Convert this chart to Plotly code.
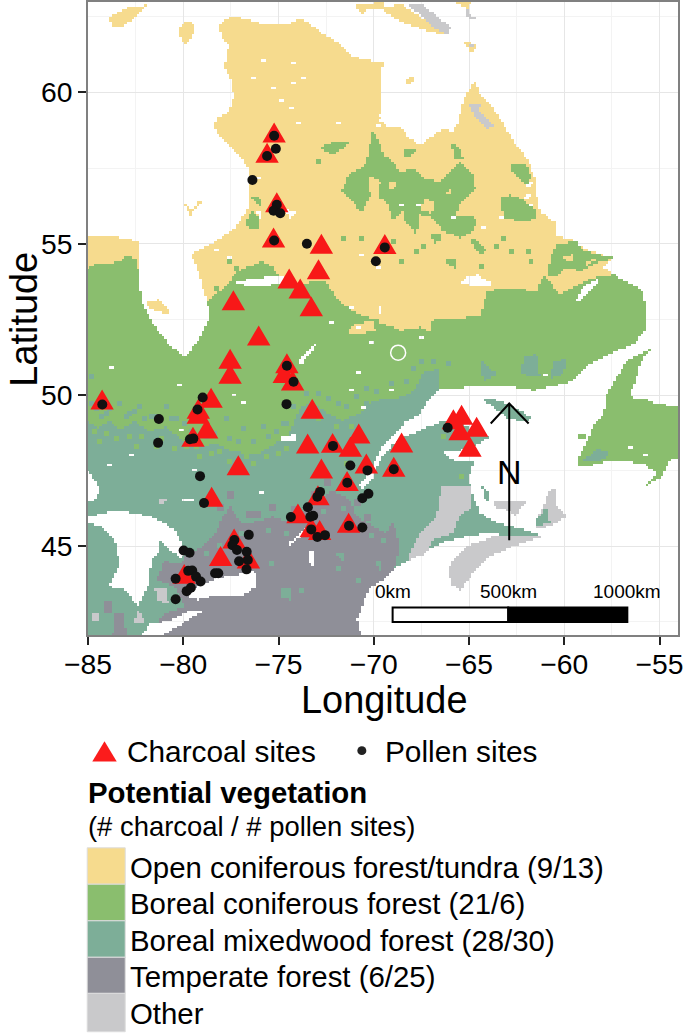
import numpy as np
import plotly.graph_objects as go

FONT = "Liberation Sans"
TAN, GREEN, MIXED, TEMPERATE, OTHER, WHITE = "#F6DB8E", "#8ABE6E", "#7DAE98", "#8F8F98", "#C9C9CB", "#FFFFFF"
RED, DOT = "#F81818", "#111111"

# ---- site locations (longitude, latitude) ----
charcoal_lon = [-75.23,-75.6,-75.09,-75.26,-72.75,-72.9,-74.44,-73.86,-73.28,-77.37,-69.42,
                -76.04,-77.54,-77.54,-84.26,-74.56,-74.7,-74.26,-78.54,-79.21,-79.21,-78.77,-79.49,
                -77.11,-78.51,-73.23,-73.47,-72.16,-70.79,-71.23,-70.39,-72.75,-71.4,-72.93,-73.98,
                -71.32,-73.28,-72.84,-77.33,-78.04,-76.58,-79.95,-68.54,-68.95,-65.82,-65.39,-65.47,-64.6,-64.95]
charcoal_lat = [58.68,58.01,56.37,55.21,55.0,54.16,53.85,53.52,52.93,53.13,54.99,
                51.97,51.2,50.7,49.85,51.05,50.73,50.48,49.91,49.55,49.38,48.89,48.62,
                47.68,46.64,49.55,48.4,48.42,48.73,48.29,47.74,47.57,47.16,46.69,46.09,
                45.78,45.63,45.54,45.26,44.68,44.6,44.09,48.43,47.63,49.2,49.35,48.84,48.95,48.29]
pollen_lon = [-75.23,-75.6,-75.14,-76.37,-75.09,-75.26,-74.91,-75.23,-73.51,-69.89,-69.42,
              -84.25,-81.28,-81.32,-78.98,-79.25,-79.65,-79.47,-79.12,-78.91,-74.56,-74.21,-74.58,
              -72.14,-71.23,-70.33,-71.39,-70.28,-70.6,-72.82,-72.96,-73.46,-73.18,-73.33,-74.35,
              -73.28,-72.96,-72.56,-71.3,-70.6,-76.56,-77.32,-77.42,-77.18,-76.67,-76.61,-77.07,
              -76.68,-78.16,-78.33,-79.98,-79.67,-79.74,-79.53,-79.33,-79.09,-80.4,-79.6,-79.82,-80.4,
              -68.95,-66.12]
pollen_lat = [58.57,57.9,58.14,57.11,56.29,56.09,56.01,55.11,55.0,54.42,54.88,
              49.69,49.21,48.42,49.92,49.52,48.54,48.56,47.32,46.43,50.97,50.44,49.7,
              48.32,47.67,47.51,47.1,46.74,46.59,46.8,46.64,46.29,46.01,45.98,45.97,
              45.56,45.31,45.37,45.68,45.62,45.38,45.21,45.04,44.88,44.82,44.55,44.51,
              44.24,44.11,44.11,44.86,44.79,44.19,44.2,44.0,43.84,43.93,43.63,43.52,43.25,
              47.55,48.92]

# ---- vegetation outlines (longitude, latitude), later lists paint over earlier ones ----
tundra_main = [(-78.16,62.22),(-77.46,62.55),(-76.75,62.44),(-75.7,62.22),(-74.65,62.22),(-73.77,62.44),(-72.9,62.05),
 (-71.84,61.62),(-71.14,61.18),(-69.74,61.01),(-69.6,60.74),(-69.6,59.9),(-69.68,59.25),(-69.33,58.87),(-68.63,58.87),
 (-68.1,58.48),(-67.58,58.26),(-66.88,58.6),(-66.35,58.8),(-65.9,58.7),(-65.56,59.03),(-65.3,59.8),(-64.95,60.13),
 (-64.68,60.4),(-64.42,59.91),(-63.72,59.47),(-63.02,58.76),(-62.67,58.37),(-61.96,57.82),(-61.53,57.16),(-61.44,56.62),
 (-61.26,56.07),(-60.47,55.68),(-60.39,55.24),(-59.6,55.13),(-58.98,54.85),(-57.4,54.52),(-57.93,54.2),(-57.23,53.92),
 (-55.82,53.43),(-55.74,52.55),(-57,52.3),(-78,52.3),(-78.6,52.55),(-78.77,53.1),(-79.12,53.87),(-79.56,54.64),
 (-78.16,55.13),(-77.28,55.52),(-76.58,56.18),(-76.49,56.84),(-76.58,57.49),(-76.93,57.82),(-78.16,58.59),(-78.42,58.87),
 (-78.16,59.2),(-77.63,59.36),(-77.37,59.8),(-77.46,60.35),(-77.89,60.9),(-77.72,61.12),(-77.63,61.56),(-77.98,61.78)]
tundra_ontario = [(-85,55.25),(-83.4,55.2),(-82.3,55.08),(-82.3,54.0),(-85,54.0)]
tundra_isl = [
 [(-83.95,62.49),(-82.89,62.82),(-81.93,62.88),(-82.37,62.55),(-83.07,62.22),(-83.68,62.16)],
 [(-80.26,62.16),(-79.74,62.38),(-79.39,62.22),(-79.56,61.78),(-79.91,61.58),(-80.21,61.89)],
 [(-82.02,53.03),(-81.32,53.15),(-80.7,52.82),(-80.79,52.66),(-81.84,52.88)],
 [(-79.3,56.45),(-79.04,56.34),(-79.39,56.12)],
 [(-79.91,56.3),(-79.47,56.12),(-79.65,55.9)],
 [(-69.68,62.77),(-68.63,62.93),(-67.4,62.44),(-66,62.11),(-66.09,61.89),(-67.05,62),(-68.63,62.33)],
 [(-70.96,62.88),(-69.39,63),(-69.65,62.71),(-70.26,62.77),(-70.61,62.55)],
 [(-68.37,60.35),(-68.02,60.57),(-67.84,60.41),(-68.19,60.24)],
 [(-65.65,62.96),(-64.9,62.96),(-65.1,62.75)],
 [(-65.3,61.67),(-64.68,61.62),(-64.68,61.4),(-64.95,61.34)],
 [(-69.68,61.01),(-69.42,60.96),(-69.6,60.74),(-69.68,60.74)],
]
boreal_main = [(-85,54.2),(-84.65,54.3),(-84.1,54.3),(-83.4,54.4),(-82.9,54.6),(-82.45,54.45),(-82.3,53.85),(-82.2,53.1),
 (-81.67,52.46),(-81.32,52.13),(-80.61,51.58),(-79.91,51.25),(-79.21,51.8),(-78.6,52.55),(-78.77,53.1),(-78.33,53.32),
 (-77.63,53.65),(-77.28,54.03),(-75.88,54.42),(-75.26,54.2),(-74.91,53.87),(-74.65,53.65),(-72.54,53.76),(-71.84,53.1),
 (-70.6,52.6),(-69.4,52.44),(-67.58,52.44),(-64.42,52.6),(-64.07,53.43),(-63.02,53.54),(-61.44,53.43),(-61.09,53.98),
 (-60.21,53.32),(-59.16,53.65),(-58.46,53.87),(-57.4,53.98),(-55.82,53.43),(-55.74,52.55),(-55.65,52.46),(-55.74,52.13),
 (-56.35,51.69),(-57.58,51.36),(-58.81,50.98),(-59.68,50.43),(-61.61,50.15),(-62.67,50.26),(-64.95,50.26),(-66.53,50.21),
 (-67.14,49.82),(-67.58,49.38),(-68.28,49.16),(-69.68,48.18),(-70.35,47.35),(-71.5,46.8),(-85,47)]
boreal_blobs = [
 [(-69.68,58.04),(-68.98,57.71),(-68.63,57.38),(-67.93,57.49),(-67.4,57.16),(-66.53,57.05),(-65.47,57.71),(-64.77,57.27),
  (-64.68,56.84),(-65.56,56.29),(-65.65,55.9),(-64.6,55.85),(-64.77,55.41),(-65.47,55.19),(-66.35,55.41),(-66.96,55.85),
  (-67.58,55.96),(-67.75,55.3),(-68.37,55.74),(-68.37,56.18),(-68.98,55.74),(-69.33,56.4),(-69.68,56.51)],
 [(-70.09,58.76),(-69.65,58.26),(-69.4,57.8),(-69.4,56.5),(-70.09,56.73),(-70.61,56.0),(-71.14,56.4),(-71.67,56.73),
  (-71.32,57.27),(-70.44,57.6),(-70.26,58.04)],
 [(-63.37,56.51),(-62.84,56.62),(-62.32,56.51),(-61.44,56.07),(-61.53,55.79),(-62.32,55.74),(-63.19,55.85)],
 [(-60.74,54.53),(-60.39,54.97),(-59.33,55.08),(-58.98,54.75),(-57.4,54.53),(-58.46,54.31),(-59.16,54.09),(-59.86,54.2),
  (-60.56,53.87),(-60.82,53.98)],
 [(-62.75,57.6),(-61.96,57.6),(-61.79,57.27),(-61.88,56.84),(-62.32,57.16),(-62.75,57.38)],
 [(-66.96,55.3),(-66.44,55.3),(-66.44,55.08),(-66.88,55.02)],
 [(-66,58.37),(-65.47,58.15),(-65.3,57.82),(-65.74,57.82)],
 [(-68.37,58.1),(-67.75,58.15),(-67.93,57.93),(-68.37,57.91)],
 [(-66.18,54.53),(-65.65,54.53),(-65.74,54.2),(-66.18,54.31)],
 [(-64.77,55.19),(-64.07,54.75),(-64.42,54.64),(-64.95,55.08)],
 [(-72.81,58.21),(-71.84,58.43),(-71.23,58.32),(-72.02,57.99),(-72.28,57.93)],
 [(-76.67,55.74),(-76.4,56.12),(-75.96,55.85),(-76.05,55.52),(-76.58,55.52)],
 [(-76.4,56.56),(-75.88,56.51),(-75.96,56.23),(-76.23,56.4)],
 [(-59.2,48.7),(-58.85,48.72),(-58.85,48.55),(-59.2,48.55)],
 [(-53.95,47.4),(-53.8,47.4),(-53.8,47.0),(-53.95,47.0)],
]
newfoundland = [(-59.33,47.85),(-58.63,48.67),(-58.46,49.05),(-57.93,49.38),(-57.75,50.04),(-56.7,51.14),(-55.39,51.53),
 (-56,51.09),(-56.18,50.59),(-56.61,49.93),(-55.65,49.88),(-55.47,49.77),(-54.07,49.6),(-53.5,49.5),(-53.5,48.07),(-54.42,47.85),
 (-54.86,47.3),(-55.82,46.97),(-55.12,47.41),(-55.82,47.74),(-57.4,47.85),(-59.16,47.6)]
tundra_over_boreal = [
 [(-69.68,52.46),(-66.96,52.46),(-67.05,52.08),(-67.58,52.24),(-68.63,52.13),(-69.16,52.3),(-69.68,52.35)],
 [(-71.4,52.02),(-71.14,52.3),(-70.09,52.46),(-69.91,52.13),(-70.79,52.0)],
 [(-67.4,56.51),(-66.79,56.34),(-66.96,55.96),(-67.49,56.12)],
 [(-70.26,57.27),(-69.65,57.05),(-69.74,56.62),(-70.26,56.73)],
 [(-66.3,56.7),(-65.9,56.85),(-65.95,56.6)],
 [(-69.2,57.1),(-68.85,57.05),(-68.9,56.8),(-69.2,56.8)],
 [(-60.2,54.5),(-59.5,54.65),(-59.6,54.4)],
 [(-58.95,54.4),(-58.3,54.5),(-58.8,54.25)],
]
mixed_main = [(-85,49.16),(-84.47,48.89),(-83.95,49.16),(-83.25,48.84),(-82.54,49.16),(-81.84,48.78),(-80.96,48.95),(-80.26,48.62),
 (-79.39,48.23),(-78.33,48.4),(-77.28,48.12),(-76.05,48.07),(-75.18,48.4),(-74.47,48.67),(-73.95,49.49),(-73.25,49.82),
 (-72.54,49.44),(-71.67,49.16),(-70.79,49.38),(-70.09,49.82),(-68.81,49.88),(-67.93,50.1),(-67.4,50.76),(-66.53,50.87),
 (-66.53,50.21),(-67.14,49.82),(-67.58,49.38),(-68.28,49.16),(-69.68,48.18),(-69.91,47.85),(-70.35,47.35),(-70.79,47.02),
 (-70.61,46.91),(-70.09,47.21),(-69.68,47.85),(-68.98,48.4),(-68.19,48.67),(-66.53,49.11),(-65.74,49.16),(-64.42,48.73),
 (-63.98,48.62),(-64.6,48.34),(-65.47,48.18),(-66.44,48.09),(-65.65,47.79),(-65.04,47.79),(-64.68,47.85),(-65.04,47.3),
 (-64.77,46.64),(-64.42,46.09),(-63.54,45.76),(-62.32,45.59),(-61.09,45.32),(-62.32,45.21),(-63.72,45.43),(-64.77,45.37),
 (-66.53,45.1),(-67.4,44.77),(-68.81,44.33),(-69.33,43.95),(-69.56,43.89),(-70.26,43.56),(-70.88,42.57),(-70.61,42.02),(-85,42.02)]
mixed_blobs = [
 [(-64.42,49.91),(-63.72,49.88),(-62.93,49.71),(-61.79,49.27),(-61.96,49.11),(-63.02,49.25),(-63.63,49.55)],
 [(-62.14,51.25),(-61.44,51.36),(-61.26,50.59),(-62.32,50.7)],
 [(-60.56,51.09),(-59.86,51.2),(-60.04,50.7),(-60.74,50.54)],
 [(-64.42,51.14),(-63.54,50.7),(-64.25,50.43)],
 [(-58.98,47.85),(-58.28,48.23),(-57.49,48.07),(-58.11,47.85)],
]
temperate_main = [(-81.32,44.0),(-81.05,44.49),(-80.09,44.44),(-79.82,44.82),(-79.04,44.93),(-78.25,45.43),(-77.98,45.98),
 (-77.54,46.31),(-76.93,45.76),(-76.05,45.81),(-75.35,45.98),(-74.47,45.81),(-73.77,46.14),(-72.89,46.47),(-72.28,46.86),
 (-71.32,46.58),(-70.88,45.98),(-70,45.65),(-69.42,45.43),(-68.98,45.76),(-68.63,44.99),(-68.89,44.33),(-69.33,43.95),
 (-69.56,43.89),(-70.26,43.56),(-70.88,42.57),(-70.61,42.02),(-81.84,42.02),(-80.96,42.79),(-79.91,43.01),(-80.44,43.67),(-81.4,43.89)]
temperate_bits = [
 [(-83.6,42.8),(-83.1,42.75),(-83,42.02),(-83.7,42.05)],
 [(-84.1,43.2),(-83.8,43.2),(-83.8,42.75),(-84.15,42.75)],
]
mixed_over_temperate = [
 [(-74.82,43.62),(-74.3,43.56),(-74.39,43.23),(-74.82,43.29)],
 [(-72.02,44.77),(-71.49,44.77),(-71.67,44.49)],
 [(-69.91,44.55),(-69.56,44.49),(-69.65,44.11)],
]
other_blobs = [
 [(-81.49,43.62),(-80.88,43.62),(-80.79,43.12),(-81.4,43.18)],
 [(-83.25,44),(-82.46,44),(-82.37,43.78),(-83.07,43.67)],
 [(-84.74,42.79),(-84.47,42.79),(-84.47,42.57),(-84.74,42.57)],
 [(-82.46,42.9),(-81.93,42.52),(-82.54,42.41)],
 [(-81.23,46.58),(-80.88,46.53),(-81.23,46.38)],
 [(-66.44,46.97),(-64.95,47.02),(-64.86,46.31),(-65.56,45.98),(-65.82,45.43),(-66.88,45.21),(-67.23,44.77),(-68.28,44.49),(-67.58,45.43),(-66.7,45.98)],
 [(-66.09,44.33),(-65.12,44.99),(-63.72,45.32),(-61.09,45.32),(-62.67,44.99),(-63.89,44.66),(-64.77,44.11),(-65.47,43.54),(-65.98,43.78)],
 [(-63.72,46.47),(-62.05,46.47),(-62.58,46.03),(-62.93,46.2),(-63.63,46.25)],
 [(-61.44,45.87),(-60.74,46.86),(-60.39,46.97),(-60.39,46.31),(-59.86,45.98),(-60.74,45.65),(-61.44,45.59)],
 [(-68.28,62.93),(-67.4,62.88),(-66.35,62.33),(-65.91,62.16),(-66.18,61.89),(-67.05,62.22),(-67.75,62.66)],
 [(-65.21,62.88),(-64.95,62.55),(-64.42,62.49),(-64.95,62.38),(-65.21,62.6)],
 [(-65.1,61.6),(-64.75,61.6),(-64.75,61.45)],
 [(-65,59.6),(-64.3,59.65),(-64.5,59.45),(-63.7,58.9),(-64.05,58.8),(-64.8,59.3)],
]
mixed_over_other = [
 [(-61.44,45.87),(-60.91,46.31),(-60.74,45.76),(-61.44,45.65)],
 [(-64.33,46.97),(-63.98,46.75),(-63.89,46.47),(-64.16,46.53)],
]
lakes = [
 [(-85,45.98),(-83.42,46.2),(-81.67,45.98),(-80.44,45.54),(-79.91,44.88),(-80.09,44.55),(-81.32,45.21),(-81.28,44.77),(-81.67,44.55),
  (-81.84,43.67),(-82.37,43.01),(-83.07,43.56),(-83.91,43.67),(-83.33,44.44),(-83.6,45.21),(-84.3,45.65),(-85,45.76)],
 [(-81.84,42.41),(-80.61,42.57),(-79.56,42.9),(-79.04,42.85),(-81.14,42.02),(-82.19,42.02)],
 [(-79.74,43.34),(-79.21,43.67),(-78.16,43.95),(-76.23,44.16),(-76.14,43.67),(-76.93,43.34),(-78.16,43.4),(-79.21,43.23)],
 [(-85,47.52),(-84.65,47.19),(-84.39,46.86),(-84.65,46.53),(-85,46.47)],
 [(-80.17,46.6),(-79.42,46.56),(-79.47,46.47),(-80.08,46.5)],
 [(-73.39,44.88),(-73.16,44.88),(-73.16,44.33),(-73.33,44.33)],
 [(-77.28,53.72),(-76.2,53.85),(-75.5,53.9),(-74.7,53.9),(-74.7,53.68),(-75.5,53.62),(-76.55,53.58)],
 [(-76.25,56.1),(-75.85,56.0),(-75.95,55.85)],
 [(-74.65,56.15),(-74.0,56.0),(-74.4,55.85)],
 [(-59.38,53.15),(-58.95,53.6),(-58.1,53.85),(-58.45,53.55),(-59.3,53.05)],
 [(-65.3,53.85),(-64.6,53.98),(-63.72,53.65),(-64.25,53.6),(-65.4,53.65)],
 [(-74.82,48.6),(-74.12,48.71),(-74.12,48.45),(-74.82,48.45)],
 [(-73.95,51.1),(-73.1,51.72),(-72.92,51.72),(-73.8,51.0)],
 [(-74.47,45.1),(-73.6,45.58),(-73.5,45.5),(-74.35,45.02)],
 [(-69.8,52.9),(-69.6,52.9),(-69.6,52.6)],
]

# small raster cells sitting inside another class (longitude, latitude)
white_lon = [-75.79,-74.21,-73.68,-74.21,-75.35,-74.91,-74.33,-73.95,-71.93,-76.32,-76.05,-78.33,-77.63,-70.7,-69.74,-68.63,-67.75,-65.91,-64.25,-63.37,-62.14,
             -83.77,-80.26,-77.46,-76.93,-70.79,-71.23,-70.18,-70.61,-80.18,-75.96,-79.56,-82.81,-83.95,-67.58,-69.16,-61.09,-56.61,-55.82,
             -62.0,-61.9,-61.8,-61.75,-69.8,-69.7,-72.3,-71.2,-70.9]
white_lat = [61.07,60.96,60.52,60.35,60.11,59.75,59.45,59.03,59.03,60.52,57.22,54.75,54.53,54.64,54.2,56.29,56.29,55.85,55.52,55.85,56.51,
             50.92,50.37,49.99,49.77,50.76,50.15,51.75,49.55,48.84,46.8,47.52,48.01,47.68,51.86,50.15,50.65,48.29,48.01,
             56.9,56.6,56.3,57.0,58.9,59.1,52.4,52.9,52.2]
mixed_cell_lon = [-84.65,-83.42,-82.37,-80.96,-84.82,-80.44,-82.89,-84.12,-77.81,-76.93,-75.88,-74.82,-81.67,-71.49,-70.44,
                  -84.9,-84.3,-83.9,-83.1,-82.6,-82.1,-81.4,-80.7,-80.0,-79.6,-78.9,-78.5,-77.6,-77.1,-76.4,-75.6,-75.2,-74.7,-74.3,-73.6,-72.9,-72.4,-71.9,-71.0,-70.4,-69.9,-69.2,-68.4,-68.0,-67.6,-66.9,-66.2,
                  -78.9,-78.2,-77.0,-75.6,-74.7,-73.9,-72.7,-71.7,-71.2,-70.2,-69.5,-71.9,-70.9,-73.9,-75.4]
mixed_cell_lat = [49.49,49.66,49.55,49.55,50.59,49.16,49.33,49.38,49.16,48.84,48.95,49.05,49.27,49.6,49.66,
                  49.7,49.3,49.5,49.3,49.4,49.2,49.3,49.2,49.0,48.8,48.6,48.7,48.5,48.4,48.4,48.6,48.8,49.0,49.6,50.0,50.0,49.8,49.7,49.9,50.2,50.1,50.3,50.4,50.8,51.1,51.1,51.0,
                  44.7,45.0,45.4,45.5,45.4,45.8,46.1,46.2,45.6,45.3,45.1,44.2,43.8,43.5,44.4]
boreal_cell_lon = [-84.12,-82.89,-81.14,-79.91,-78.16,-76.75,-75.7,-82.19,-84.74,-71.49,-66.35,-65.47,
                   -84.5,-83.6,-82.5,-81.5,-80.6,-79.3,-78.6,-77.6,-76.3,-75.1,-74.7,-72.9,-72.0,-71.2,
                   -69.0,-68.6,-67.8,-67.4,-64.4,-63.7,-63.3,-62.9,-62.0,-61.8,-71.6,-72.9,-70.7,-77.7,-78.3,-77.3]
boreal_cell_lat = [48.67,48.62,48.5,48.29,48.07,47.9,47.96,48.56,48.73,47.68,48.56,47.3,
                   48.4,48.5,48.3,48.3,48.2,47.9,48.0,47.8,47.7,48.0,48.2,49.2,48.9,48.9,
                   55.0,54.4,54.7,54.9,54.2,54.9,55.1,54.7,54.7,54.4,55.1,57.7,55.1,54.4,53.5,54.1]
temperate_cell_lon = [-78.2,-77.6,-77.9,-76.6,-76.2,-75.5,-74.2,-73.2,-72.6,-71.8,-71.0,-70.5]
temperate_cell_lat = [46.2,46.6,45.7,46.0,46.0,46.2,46.1,46.6,47.0,46.9,46.4,45.9]
crater_lon, crater_lat = [-68.72], [51.4]

legend_veg = ["Open coniferous forest/tundra (9/13)", "Boreal coniferous forest (21/6)",
              "Boreal mixedwood forest (28/30)", "Temperate forest (6/25)", "Other"]
legend_col = [TAN, GREEN, MIXED, TEMPERATE, OTHER]
scale_labels = ["0km", "500km", "1000km"]
scale_lon = [-69.01, -62.94, -56.69]
x_ticks = [-85, -80, -75, -70, -65, -60, -55]
y_ticks = [45, 50, 55, 60]

# ---- rasterise the outlines onto the map's own cell grid ----
grid_lon = np.arange(-85.0, -53.9, 0.131)
grid_lat = np.arange(42.0, 63.05, 0.0825)
GX, GY = np.meshgrid(grid_lon, grid_lat)
veg = np.full(GX.shape, np.nan)

def inside(p):
    px_, py_ = np.array([q[0] for q in p]), np.array([q[1] for q in p])
    out = np.zeros(GX.shape, dtype=bool)
    for i in range(len(p)):
        j = (i - 1) % len(p)
        cross = (py_[i] > GY) != (py_[j] > GY)
        with np.errstate(divide="ignore", invalid="ignore"):
            xc = (px_[j] - px_[i]) * (GY - py_[i]) / (py_[j] - py_[i]) + px_[i]
        out ^= cross & (GX < xc)
    return out

def paint(polys, code):
    for p in polys:
        veg[inside(p)] = code

def stamp(lon, lat, code, nx=2, ny=2):
    for lo, la in zip(lon, lat):
        i = int(round((la - grid_lat[0]) / 0.0825))
        j = int(round((lo - grid_lon[0]) / 0.131))
        veg[i:i + ny, j:j + nx] = code

paint([tundra_main, tundra_ontario] + tundra_isl, 0)
paint([boreal_main, newfoundland] + boreal_blobs, 1)
paint(tundra_over_boreal, 0)
paint([mixed_main] + mixed_blobs, 2)
stamp(boreal_cell_lon, boreal_cell_lat, 1)
paint([temperate_main] + temperate_bits, 3)
stamp(temperate_cell_lon, temperate_cell_lat, 3, 3, 3)
paint(mixed_over_temperate, 2)
stamp(mixed_cell_lon, mixed_cell_lat, 2)
paint(other_blobs, 4)
paint(mixed_over_other, 2)
paint(lakes, np.nan)
stamp(white_lon, white_lat, np.nan, 2, 1)

W, H = 685, 1033
L, R, B = 88.3, 678.0, 635.0
def px(x): return (x - L) / (R - L)
def py(y): return (B - y) / B

fig = go.Figure()
scale = [[0.0, TAN], [0.2, TAN], [0.2, GREEN], [0.4, GREEN], [0.4, MIXED], [0.6, MIXED],
         [0.6, TEMPERATE], [0.8, TEMPERATE], [0.8, OTHER], [1.0, OTHER]]
fig.add_trace(go.Heatmap(x=grid_lon, y=grid_lat, z=veg, zmin=-0.5, zmax=4.5, colorscale=scale, showscale=False,
                         hoverinfo="skip", zsmooth=False))
fig.add_trace(go.Scatter(x=crater_lon, y=crater_lat, mode="markers", hoverinfo="skip", showlegend=False,
                         marker=dict(symbol="circle-open", size=15, color=WHITE, line=dict(color=WHITE, width=1.5))))

# triangles: equilateral outline, scaled by the axes' px per degree
HW, HH = 11.7 / 19.04, 10.0 / 30.33
tx, ty = [], []
for lo, la in zip(charcoal_lon, charcoal_lat):
    tx += [lo - HW, lo + HW, lo, lo - HW, None]
    ty += [la - HH, la - HH, la + HH, la - HH, None]
fig.add_trace(go.Scatter(x=tx, y=ty, mode="lines", fill="toself", fillcolor=RED, name="Charcoal sites",
                         line=dict(width=0, color=RED), hoverinfo="skip", showlegend=False))
fig.add_trace(go.Scatter(x=pollen_lon, y=pollen_lat, mode="markers", name="Pollen sites", hoverinfo="skip",
                         showlegend=False, marker=dict(size=10, color=DOT, line=dict(width=0))))

# north arrow
fig.add_trace(go.Scatter(x=[-62.89, -62.89, None, -63.86, -62.89, -61.87],
                         y=[45.2, 49.72, None, 49.06, 49.72, 49.06], mode="lines",
                         line=dict(color="black", width=2), hoverinfo="skip", showlegend=False))

shapes, ann = [], []
def text(x, y, s, size, **kw):
    ann.append(dict(x=px(x), y=py(y), xref="paper", yref="paper", text=s, showarrow=False,
                    xanchor=kw.pop("xanchor", "left"), yanchor="middle",
                    font=dict(family=FONT, size=size, color="black"), **kw))

# scale bar
shapes.append(dict(type="rect", xref="x", yref="y", x0=scale_lon[0], x1=scale_lon[1], y0=42.5, y1=42.98,
                   fillcolor="white", line=dict(color="black", width=2)))
shapes.append(dict(type="rect", xref="x", yref="y", x0=scale_lon[1], x1=scale_lon[2], y0=42.5, y1=42.98,
                   fillcolor="black", line=dict(color="black", width=2)))
for s, lo in zip(scale_labels, scale_lon):
    ann.append(dict(x=lo, y=43.5, xref="x", yref="y", text=s, showarrow=False, xanchor="center", yanchor="middle",
                    font=dict(family=FONT, size=19, color="black")))
ann.append(dict(x=-62.85, y=47.45, xref="x", yref="y", text="N", showarrow=False, xanchor="center", yanchor="middle",
                font=dict(family=FONT, size=34, color="black")))

# axis titles
text(384, 700, "Longitude", 37.9, xanchor="center")
ann.append(dict(x=px(24), y=py(318), xref="paper", yref="paper", text="Latitude", textangle=-90, showarrow=False,
                xanchor="center", yanchor="middle", font=dict(family=FONT, size=37.9, color="black")))

# point legend
shapes.append(dict(type="path", xref="paper", yref="paper", line=dict(width=0), fillcolor="#FB1C1C",
                   path=f"M{px(92.6)},{py(762)} L{px(117)},{py(762)} L{px(104.8)},{py(741.5)} Z"))
shapes.append(dict(type="circle", xref="paper", yref="paper", line=dict(width=0), fillcolor="#222222",
                   x0=px(357.5), x1=px(366.5), y0=py(755.5), y1=py(746.5)))
text(125, 752, "Charcoal sites", 29.8)
text(383.5, 752, "Pollen sites", 29.8)
text(86.5, 793, "<b>Potential vegetation</b>", 29.4)
text(86.5, 827, "(# charcoal / # pollen sites)", 27.4)

# vegetation legend
edges = [848.5, 885, 921.7, 958.3, 994.5, 1033]
for i, (lab, col) in enumerate(zip(legend_veg, legend_col)):
    shapes.append(dict(type="rect", xref="paper", yref="paper", x0=px(87.5), x1=px(125.5),
                       y0=py(edges[i + 1]), y1=py(edges[i]), fillcolor=col, line=dict(color="#DDDDDD", width=1)))
    text(128, (edges[i] + edges[i + 1]) / 2 + 1, lab, 29.4)

tick = dict(family=FONT, size=28.3, color="black")
common = dict(showline=True, linecolor="#808080", linewidth=1.5, mirror=True, ticks="outside", ticklen=8, tickwidth=2,
              tickcolor="#222222", tickfont=tick, showgrid=True, gridcolor="#E6E6E6", gridwidth=1, zeroline=False)
fig.update_layout(
    width=W, height=H, margin=dict(l=L, r=W - R, t=0, b=H - B), paper_bgcolor="white", plot_bgcolor="white",
    showlegend=False, shapes=shapes, annotations=ann,
    xaxis=dict(range=[-85.0, -54.03], tickvals=x_ticks, ticklabelstandoff=-5,
               minor=dict(dtick=2.5, tick0=-85, showgrid=True, gridcolor="#F3F3F3", ticks=""), **common),
    yaxis=dict(range=[42.07, 62.99], tickvals=y_ticks,
               minor=dict(dtick=2.5, tick0=45, showgrid=True, gridcolor="#F3F3F3", ticks=""), **common),
)
fig.write_html("out.html", config=dict(displayModeBar=False), post_script="document.body.style.margin='0';")
